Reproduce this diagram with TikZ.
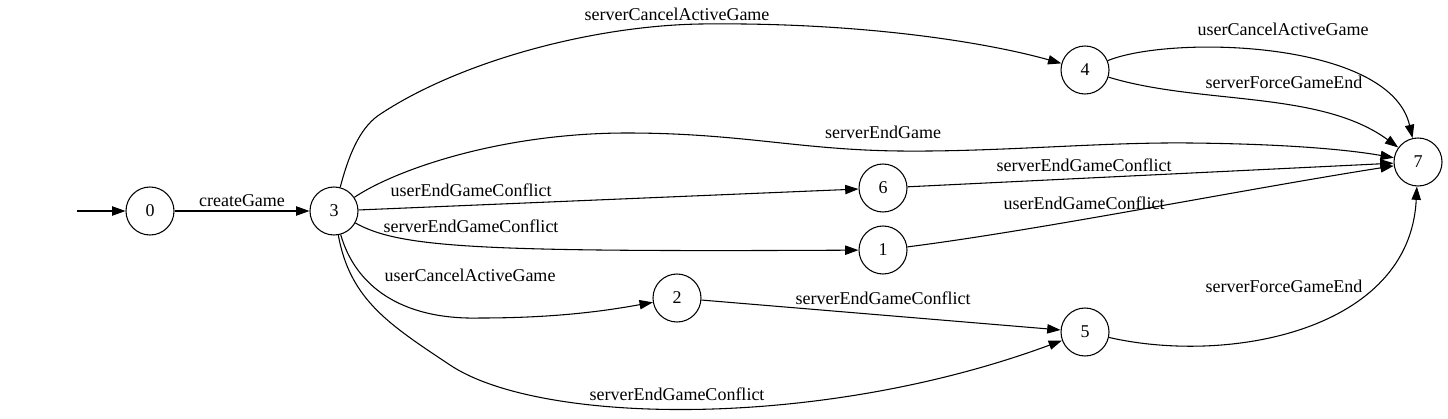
\documentclass[tikz,border=0pt]{standalone}
\usepackage{fontspec}
\setmainfont{Liberation Serif}
\usetikzlibrary{arrows.meta}
\tikzset{
  state/.style={circle, draw=black, line width=0.8pt, minimum size=36pt,
                inner sep=0pt, font=\fontsize{13.5}{16}\selectfont},
  lbl/.style={inner sep=0pt, font=\fontsize{13.5}{16}\selectfont},
  edge/.style={-{Triangle[length=10pt,width=7pt]}, line width=0.8pt, draw=black},
}
\begin{document}
\begin{tikzpicture}[x=0.75pt, y=-0.75pt]
  \useasboundingbox (0,0) rectangle (1448,418);

  % States
  \coordinate (init) at (77,211);
  \node[state] (s0) at (150,211) {0};
  \node[state] (s3) at (334,211) {3};
  \node[state] (s4) at (1085,70) {4};
  \node[state] (s6) at (883,188) {6};
  \node[state] (s1) at (883,250) {1};
  \node[state] (s2) at (677,298) {2};
  \node[state] (s5) at (1085,332) {5};
  \node[state] (s7) at (1418,162) {7};

  % Transitions
  \draw[edge] (init) -- (s0);
  \draw[edge] (s0) -- (s3);
  \draw[edge] (s3) .. controls (350,150) and (362,125) .. (382,113)
              .. controls (460,62) and (590,26) .. (700,24)
              .. controls (860,22) and (985,42) .. (s4);
  \draw[edge] (s4) .. controls (1170,35) and (1390,40) .. (s7);
  \draw[edge] (s4) .. controls (1200,105) and (1320,90) .. (s7);
  \draw[edge] (s3) .. controls (395,170) and (500,133) .. (627,133)
              .. controls (740,133) and (800,150) .. (900,151)
              .. controls (1000,152) and (1100,142) .. (1190,143)
              .. controls (1290,144) and (1350,150) .. (s7);
  \draw[edge] (s3) -- (s6);
  \draw[edge] (s6) -- (s7);
  \draw[edge] (s3) .. controls (400,248) and (480,252) .. (s1);
  \draw[edge] (s1) .. controls (1040,230) and (1240,190) .. (s7);
  \draw[edge] (s3) .. controls (355,285) and (400,320) .. (480,318)
              .. controls (560,318) and (610,310) .. (s2);
  \draw[edge] (s2) -- (s5);
  \draw[edge] (s3) .. controls (350,300) and (390,325) .. (450,365)
              .. controls (540,425) and (820,430) .. (s5);
  \draw[edge] (s5) .. controls (1230,365) and (1410,330) .. (s7);

  % Labels
  \node[lbl] (l03) at (242,201) {createGame};
  \node[lbl] (l34) at (677,14) {serverCancelActiveGame};
  \node[lbl] (l47a) at (1283,29) {userCancelActiveGame};
  \node[lbl] (l47b) at (1284,82) {serverForceGameEnd};
  \node[lbl] (l37) at (883,132) {serverEndGame};
  \node[lbl] (l67) at (1084,165) {serverEndGameConflict};
  \node[lbl] (l36) at (471,190) {userEndGameConflict};
  \node[lbl] (l31) at (471,226) {serverEndGameConflict};
  \node[lbl] (l17) at (1084,203) {userEndGameConflict};
  \node[lbl] (l32) at (470,275) {userCancelActiveGame};
  \node[lbl] (l25) at (883,298) {serverEndGameConflict};
  \node[lbl] (l57) at (1284,286) {serverForceGameEnd};
  \node[lbl] (l35) at (677,394) {serverEndGameConflict};
\end{tikzpicture}
\end{document}
